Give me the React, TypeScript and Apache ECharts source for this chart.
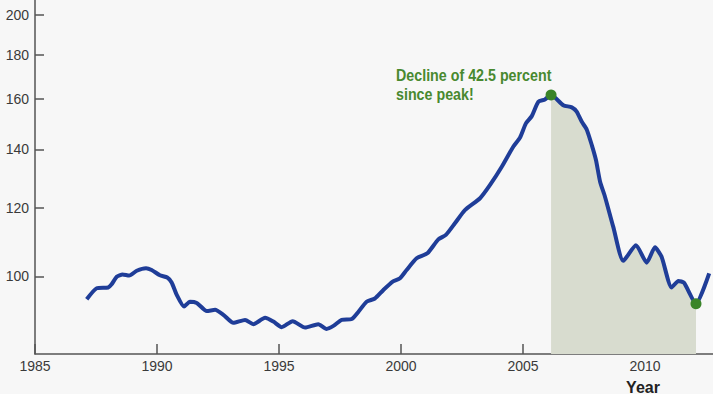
import React, { useEffect, useRef } from "react";
import * as echarts from "echarts";

const years = [
  1987.12, 1987.53, 1988.0, 1988.14, 1988.35, 1988.59, 1988.86, 1989.17, 1989.55, 1989.78,
  1990.12, 1990.42, 1990.6, 1990.81, 1991.11, 1991.35, 1991.63, 1992.04, 1992.38, 1992.72,
  1993.13, 1993.61, 1993.95, 1994.43, 1994.77, 1995.11, 1995.56, 1996.07, 1996.61, 1996.95,
  1997.23, 1997.57, 1997.98, 1998.25, 1998.59, 1998.93, 1999.27, 1999.66, 1999.96, 2000.23,
  2000.64, 2001.08, 2001.53, 2001.84, 2002.21, 2002.62, 2003.24, 2003.65, 2004.13, 2004.6,
  2004.88, 2005.12, 2005.36, 2005.63, 2005.9, 2006.15, 2006.65, 2007.0, 2007.2, 2007.41,
  2007.61, 2007.82, 2007.99, 2008.16, 2008.36, 2008.7, 2009.11, 2009.63, 2010.07, 2010.41,
  2010.68, 2011.09, 2011.37, 2011.6, 2012.09, 2012.63,
];
const values = [
  94.1, 96.9, 97.1, 97.9, 99.9, 100.5, 100.2, 101.5, 102.2, 101.7,
  100.3, 99.7, 98.4, 95.2, 92.3, 93.5, 93.2, 91.2, 91.5, 90.3,
  88.4, 89.1, 88.1, 89.6, 88.7, 87.4, 88.8, 87.3, 88.1, 87.0,
  87.7, 89.1, 89.3, 91.0, 93.5, 94.3, 96.4, 98.6, 99.5, 101.7,
  104.9, 106.3, 110.3, 111.6, 115.1, 119.2, 123.0, 127.4, 133.7, 141.0,
  144.5, 150.0, 152.9, 158.8, 159.8, 161.7, 157.4, 156.5, 154.7, 150.6,
  147.6, 141.6, 136.1, 128.5, 123.5, 114.0, 104.2, 108.6, 103.7, 108.0,
  105.3, 97.1, 98.8, 98.3, 93.0, 100.8,
];
const peakIndex = 55;
const troughIndex = 74;
const yTickValues = [100, 120, 140, 160, 180, 200];
const xTickValues = [1985, 1990, 1995, 2000, 2005, 2010];
const yRange = [81.4, 208];
const xRange = [1985, 2012.787];
const annotationText = "Decline of 42.5 percent\nsince peak!";
const xAxisTitle = "Year";

export default function App() {
  const ref = useRef<HTMLDivElement>(null);
  useEffect(() => {
    const chart = echarts.init(ref.current!, null, { renderer: "svg" });
    const ln = Math.log;
    const lineData = years.map((y, i) => [y, ln(values[i])]);
    const shadeData = lineData.slice(peakIndex, troughIndex + 1);
    const dots = [lineData[peakIndex], lineData[troughIndex]];
    const axisColor = "#555555";
    const labelStyle = {
      color: "#3a3a3a",
      fontSize: 14,
      fontFamily: "'Liberation Sans', Arial, sans-serif",
    };
    chart.setOption({
      animation: false,
      backgroundColor: "#f7f7f7",
      grid: { left: 35, right: 0, top: 0, bottom: 40, containLabel: false },
      xAxis: {
        type: "value",
        min: xRange[0],
        max: xRange[1],
        interval: 5,
        axisLine: { show: true, lineStyle: { color: axisColor, width: 1.5 } },
        axisTick: {
          show: true,
          inside: true,
          length: 10,
          customValues: xTickValues,
          lineStyle: { color: axisColor, width: 1.5 },
        },
        axisLabel: {
          ...labelStyle,
          margin: 5,
          customValues: xTickValues,
          formatter: (v: number) => String(Math.round(v)),
        },
        splitLine: { show: false },
      },
      yAxis: {
        type: "value",
        min: ln(yRange[0]),
        max: ln(yRange[1]),
        axisLine: { show: true, lineStyle: { color: axisColor, width: 1.5 } },
        axisTick: {
          show: true,
          inside: true,
          length: 9,
          customValues: yTickValues.map((v) => ln(v)),
          lineStyle: { color: axisColor, width: 1.5 },
        },
        axisLabel: {
          ...labelStyle,
          margin: 6,
          customValues: yTickValues.map((v) => ln(v)),
          formatter: (v: number) => String(Math.round(Math.exp(v))),
        },
        splitLine: { show: false },
      },
      series: [
        {
          type: "line",
          data: shadeData,
          showSymbol: false,
          smooth: 0.2,
          lineStyle: { width: 0 },
          areaStyle: { color: "#d8dccf", opacity: 1, origin: "start" },
          z: 1,
          silent: true,
        },
        {
          type: "line",
          data: lineData,
          showSymbol: false,
          smooth: 0.2,
          lineStyle: { color: "#1f3d98", width: 4 },
          z: 3,
        },
        {
          type: "scatter",
          data: dots,
          symbolSize: 11,
          itemStyle: { color: "#3a8428", opacity: 1 },
          z: 4,
        },
      ],
      graphic: [
        {
          type: "text",
          x: 396,
          y: 66,
          scaleX: 0.84,
          style: {
            text: annotationText,
            fill: "#48892f",
            font: "bold 17px 'Liberation Sans', Arial, sans-serif",
            lineHeight: 19,
          },
        },
        {
          type: "text",
          x: 643,
          y: 387,
          style: {
            text: xAxisTitle,
            fill: "#222222",
            font: "bold 16px 'Liberation Sans', Arial, sans-serif",
            align: "center",
            verticalAlign: "middle",
          },
        },
      ],
    });
    return () => chart.dispose();
  }, []);
  return (
    <div
      ref={ref}
      style={{ position: "fixed", left: 0, top: 0, width: 713, height: 394 }}
    />
  );
}
